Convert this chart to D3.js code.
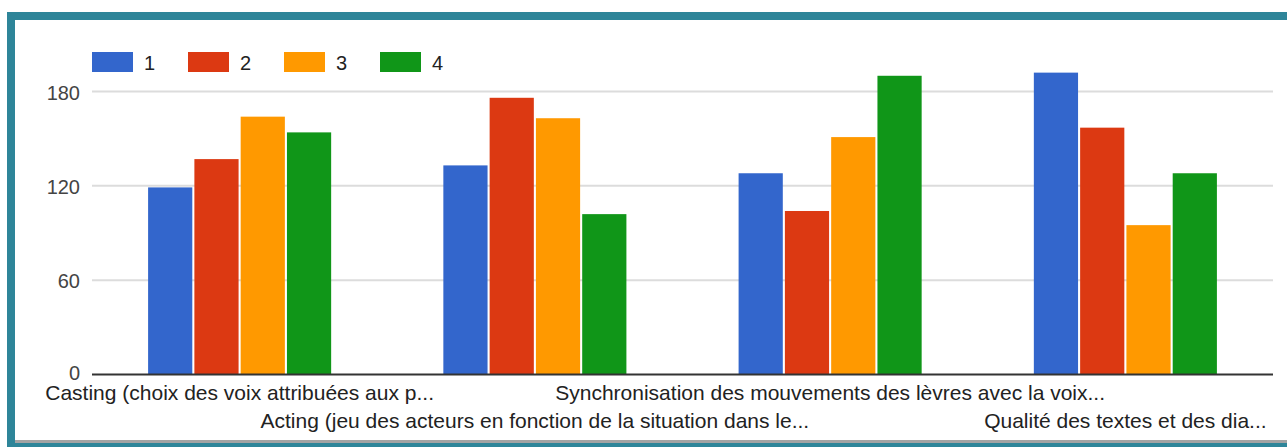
<!DOCTYPE html>
<html>
<head>
<meta charset="utf-8">
<script src="https://cdn.jsdelivr.net/npm/d3@7"></script>
<style>
  body { margin: 0; background: #fff; }
  text { font-family: Arial, "Liberation Sans", sans-serif; }
</style>
</head>
<body>
<svg id="mainsvg" width="1287" height="447"></svg>
<script>
const categories = [
  'Casting (choix des voix attribuées aux p...',
  'Acting (jeu des acteurs en fonction de la situation dans le...',
  'Synchronisation des mouvements des lèvres avec la voix...',
  'Qualité des textes et des dia...'
]
const seriesNames = ['1', '2', '3', '4']
const series1 = [119, 133, 128, 192]
const series2 = [137, 176, 104, 157]
const series3 = [164, 163, 151, 95]
const series4 = [154, 102, 190, 128]
const yTicks = [0, 60, 120, 180]
const colors = ['#3366cc', '#dc3912', '#ff9900', '#109618']

const allSeries = [series1, series2, series3, series4]

const svg = d3.select('#mainsvg')

// frame
svg.append('rect').attr('x', 7).attr('y', 12).attr('width', 1280).attr('height', 435).attr('fill', '#2e8599')
svg.append('rect').attr('x', 15).attr('y', 20).attr('width', 1272).attr('height', 423).attr('fill', '#a3a3a3')
svg.append('rect').attr('x', 15).attr('y', 20).attr('width', 1272).attr('height', 420).attr('fill', '#fff')

let left = 92, right = 1273
let x0 = d3.scaleBand().domain(categories).range([left, right]).paddingInner(0.38).paddingOuter(0.19)
let x1 = d3.scaleBand().domain(seriesNames).range([0, x0.bandwidth()]).paddingInner(0.045)
let y = d3.scaleLinear().domain([0, 180]).range([374.5, 91.5])

// gridlines
svg.append('g').selectAll('line').data(yTicks.filter(d => d > 0)).join('line')
  .attr('x1', left).attr('x2', right)
  .attr('y1', d => y(d)).attr('y2', d => y(d))
  .attr('stroke', '#dcdcdc').attr('stroke-width', 2)

// y labels
svg.append('g').selectAll('text').data(yTicks).join('text')
  .attr('x', 80).attr('y', d => y(d) + (d === 0 ? 5 : 8))
  .attr('text-anchor', 'end').attr('font-size', '20px').attr('fill', '#444')
  .text(d => d)

// bars
let groups = svg.append('g').selectAll('g').data(categories).join('g')
  .attr('transform', d => `translate(${x0(d)},0)`)
groups.selectAll('rect')
  .data((d, i) => seriesNames.map((s, j) => ({s: s, v: allSeries[j][i], c: colors[j]})))
  .join('rect')
  .attr('x', d => x1(d.s))
  .attr('y', d => y(d.v))
  .attr('width', x1.bandwidth())
  .attr('height', d => y(0) - y(d.v))
  .attr('fill', d => d.c)

// baseline
svg.append('line').attr('x1', left).attr('x2', right).attr('y1', y(0)).attr('y2', y(0))
  .attr('stroke', '#333').attr('stroke-width', 2)

// category labels, alternating rows
svg.append('g').selectAll('text').data(categories).join('text')
  .attr('x', d => x0(d) + x0.bandwidth() / 2)
  .attr('y', (d, i) => i % 2 === 0 ? 400 : 428)
  .attr('text-anchor', 'middle').attr('font-size', '21px').attr('fill', '#222')
  .text(d => d)

// legend
let legend = svg.append('g').selectAll('g').data(seriesNames).join('g')
  .attr('transform', (d, i) => `translate(${92 + i * 96},52)`)
legend.append('rect').attr('width', 41).attr('height', 20).attr('fill', (d, i) => colors[i])
legend.append('text').attr('x', 52).attr('y', 18).attr('font-size', '20px').attr('fill', '#222').text(d => d)
</script>
</body>
</html>
